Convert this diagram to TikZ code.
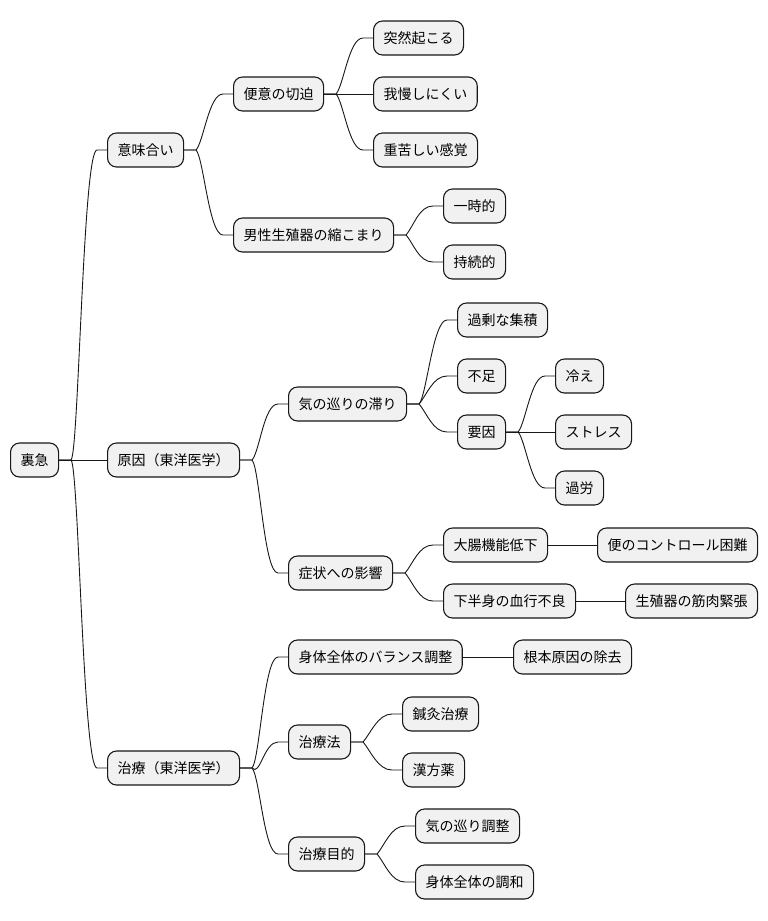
\documentclass[tikz,border=0pt]{standalone}
\usepackage{fontspec}
\newfontfamily\cjk{Noto Sans CJK JP}
\usetikzlibrary{calc}
\definecolor{boxfill}{HTML}{F1F1F1}
\definecolor{boxline}{HTML}{181818}
\tikzset{
  mmnode/.style={draw=boxline, fill=boxfill, line width=1.1pt, rounded corners=9pt,
    minimum height=34pt, inner xsep=10pt, inner ysep=0pt, anchor=west,
    text height=12pt, text depth=2pt,
    font=\cjk\fontsize{14}{16}\selectfont, text=black},
  mmlink/.style={draw=boxline, line width=0.9pt},
}
\newcommand\mmup[2]{\draw[mmlink] (#1.east) -- ++(12,0) to[out=50,in=180,out distance=12pt,in distance=14pt] ($(#2.west)+(-10,0)$) -- (#2.west);}
\newcommand\mmdown[2]{\draw[mmlink] (#1.east) -- ++(12,0) to[out=-50,in=180,out distance=12pt,in distance=14pt] ($(#2.west)+(-10,0)$) -- (#2.west);}
\newcommand\mmstraight[2]{\draw[mmlink] (#1.east) -- (#2.west);}
\begin{document}
\begin{tikzpicture}[x=1pt,y=1pt]
\fill[white] (0,0) rectangle (768,-921);
\useasboundingbox (0,0) rectangle (768,-921);
% level 0
\node[mmnode] (root) at (10,-460) {裏急};
% level 1
\node[mmnode] (imi) at (107,-150) {意味合い};
\node[mmnode] (gen) at (107,-460) {原因（東洋医学）};
\node[mmnode] (chi) at (107,-768) {治療（東洋医学）};
% 意味合い
\node[mmnode] (beni) at (233,-94) {便意の切迫};
\node[mmnode] (dans) at (233,-235) {男性生殖器の縮こまり};
\node[mmnode] (totsu) at (373,-38) {突然起こる};
\node[mmnode] (gaman) at (373,-94) {我慢しにくい};
\node[mmnode] (omo) at (373,-150) {重苦しい感覚};
\node[mmnode] (ichi) at (443,-206) {一時的};
\node[mmnode] (jizo) at (443,-262) {持続的};
% 原因
\node[mmnode] (ki) at (288,-404) {気の巡りの滞り};
\node[mmnode] (kaj) at (457,-320) {過剰な集積};
\node[mmnode] (fus) at (457,-376) {不足};
\node[mmnode] (yoin) at (457,-432) {要因};
\node[mmnode] (hie) at (555,-376) {冷え};
\node[mmnode] (str) at (555,-432) {ストレス};
\node[mmnode] (karo) at (555,-488) {過労};
\node[mmnode] (sho) at (288,-573) {症状への影響};
\node[mmnode] (dai) at (443,-545) {大腸機能低下};
\node[mmnode] (ben) at (597,-545) {便のコントロール困難};
\node[mmnode] (kaha) at (443,-601) {下半身の血行不良};
\node[mmnode] (sei) at (625,-601) {生殖器の筋肉緊張};
% 治療
\node[mmnode] (bal) at (288,-657) {身体全体のバランス調整};
\node[mmnode] (kon) at (513,-657) {根本原因の除去};
\node[mmnode] (hoho) at (288,-742) {治療法};
\node[mmnode] (shin) at (402,-714) {鍼灸治療};
\node[mmnode] (kam) at (402,-770) {漢方薬};
\node[mmnode] (moku) at (288,-854) {治療目的};
\node[mmnode] (kich) at (415,-826) {気の巡り調整};
\node[mmnode] (cho) at (415,-882) {身体全体の調和};
% links
\mmup{root}{imi}
\mmstraight{root}{gen}
\mmdown{root}{chi}
\mmup{imi}{beni}
\mmdown{imi}{dans}
\mmup{beni}{totsu}
\mmstraight{beni}{gaman}
\mmdown{beni}{omo}
\mmup{dans}{ichi}
\mmdown{dans}{jizo}
\mmup{gen}{ki}
\mmdown{gen}{sho}
\mmup{ki}{kaj}
\mmup{ki}{fus}
\mmdown{ki}{yoin}
\mmup{yoin}{hie}
\mmstraight{yoin}{str}
\mmdown{yoin}{karo}
\mmup{sho}{dai}
\mmdown{sho}{kaha}
\mmstraight{dai}{ben}
\mmstraight{kaha}{sei}
\mmup{chi}{bal}
\mmdown{chi}{hoho}
\mmdown{chi}{moku}
\mmstraight{bal}{kon}
\mmup{hoho}{shin}
\mmdown{hoho}{kam}
\mmup{moku}{kich}
\mmdown{moku}{cho}
\end{tikzpicture}
\end{document}
